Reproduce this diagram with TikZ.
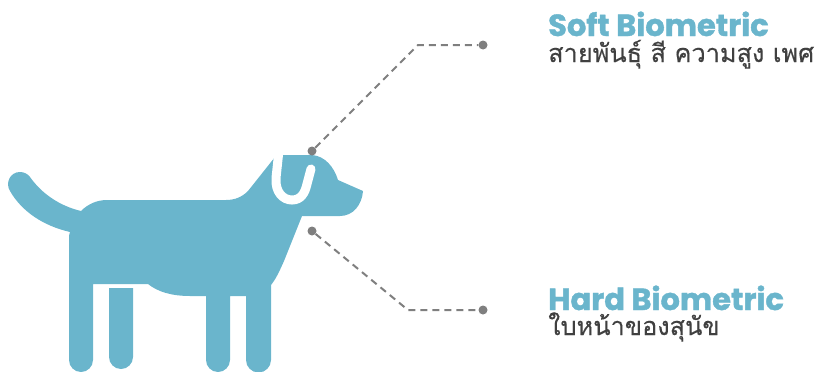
\documentclass[tikz,border=0pt]{standalone}
\usepackage{fontspec}
\setmainfont{Poppins}[BoldFeatures={FakeBold=1.2}]
\newfontfamily\thaifont[Script=Thai,FakeBold=0.3]{Loma}
\usetikzlibrary{positioning}
\definecolor{dogblue}{HTML}{6AB5CC}
\definecolor{dotgray}{HTML}{7F7F7F}
\definecolor{textgray}{HTML}{404040}
\begin{document}
\begin{tikzpicture}[
    x=1pt, y=-1pt,
    dogshape/.style={fill=dogblue, draw=none},
    pindot/.style={circle, fill=dotgray, inner sep=0pt, minimum size=9pt},
    leader/.style={dotgray, line width=2pt, dash pattern=on 7pt off 5pt},
    titletext/.style={font=\fontsize{30.5}{30.5}\selectfont\bfseries, text=dogblue, inner sep=0pt, anchor=base west},
    thaitext/.style={font=\thaifont\fontsize{25.3}{25.3}\selectfont, text=textgray, inner sep=0pt}
  ]
    \useasboundingbox (0,0) rectangle (819,372);

    \fill[dogshape] (30,177) .. controls (42,194) and (60,206) .. (81,211)
      .. controls (88,204) and (97,200) .. (107,200) -- (226,200)
      .. controls (235,200) and (242,197) .. (248,191) -- (275,157) -- (284,155) -- (312,155)
      .. controls (325,156) and (334,167) .. (338,180) -- (363,191)
      .. controls (362,205) and (353,216) .. (340,216) -- (302,216) -- (284,261)
      .. controls (280,270) and (276,279) .. (271,285) -- (271,360)
      arc[start angle=0, end angle=180, x radius=12.5, y radius=12.5] -- (246,296) -- (230,296) -- (230,360)
      arc[start angle=0, end angle=180, x radius=12, y radius=12] -- (206,296) -- (190,296)
      .. controls (172,296) and (158,292) .. (148,284) -- (93,284) -- (93,360)
      arc[start angle=0, end angle=180, x radius=12, y radius=12] -- (69,240)
      .. controls (69,236) and (69,234) .. (70,232)
      .. controls (44,226) and (22,212) .. (10,191)
      .. controls (5,183) and (10,172) .. (20,172)
      .. controls (24,172) and (28,174) .. (30,177) -- cycle;
    \fill[dogshape] (109,288) -- (133,288) -- (133,357)
      arc[start angle=0, end angle=180, x radius=12, y radius=12] -- cycle;

    \draw[white, line width=9pt, line cap=round] (279,150) -- (276,178)
      .. controls (275,192) and (283,200) .. (292,200)
      .. controls (301,200) and (305,193) .. (307,184) -- (311,169);

    \coordinate (softbend) at (418,45);
    \coordinate (hardbend) at (408,310);
    \node[pindot] (softhead) at (312,151) {};
    \node[pindot] (softend) at (483,45) {};
    \node[pindot] (hardface) at (312,231) {};
    \node[pindot] (hardend) at (483,310) {};

    \draw[leader] (softhead) -- (softbend) -- (softend);
    \draw[leader] (hardface) -- (hardbend) -- (hardend);

    \node[titletext] (softtitle) at (548,36) {Soft Biometric};
    \node[thaitext, anchor=base west] (softtext) at (548,62) {สายพันธุ์ สี ความสูง เพศ};
    \node[titletext] (hardtitle) at (548,310) {Hard Biometric};
    \node[thaitext, anchor=base west] (hardtext) at (548,335) {ใบหน้าของสุนัข};
  \end{tikzpicture}
\end{document}
